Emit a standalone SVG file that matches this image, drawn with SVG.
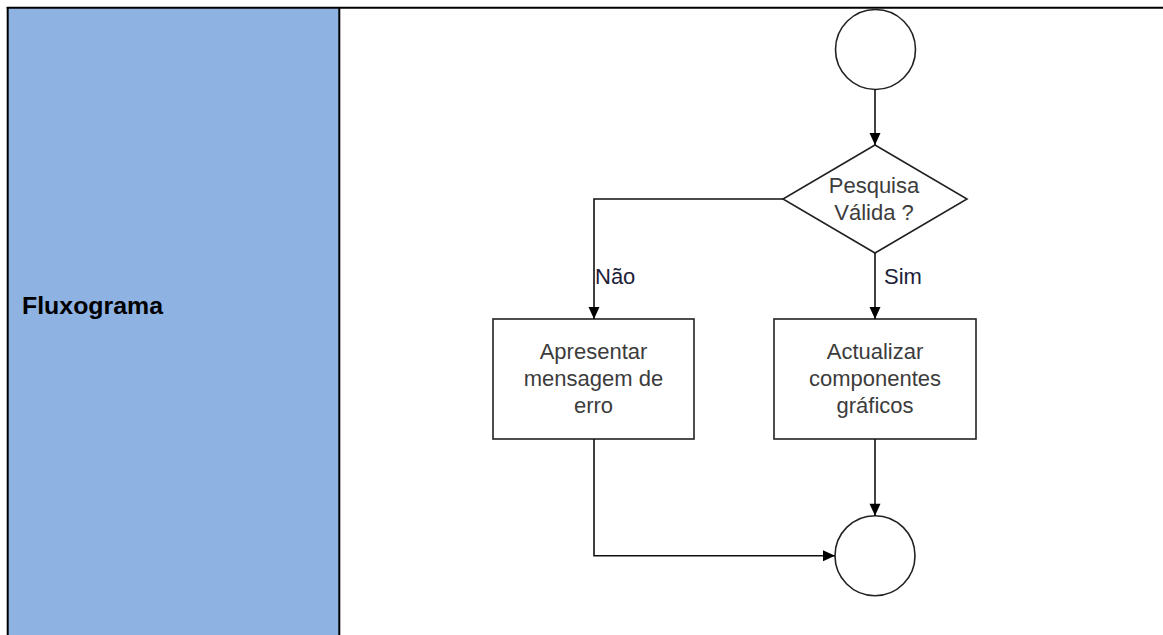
<svg xmlns="http://www.w3.org/2000/svg" width="1163" height="635" viewBox="0 0 1163 635">
<defs>
<marker id="arr" markerUnits="userSpaceOnUse" markerWidth="14" markerHeight="14" viewBox="0 0 14 14" refX="13" refY="7" orient="auto">
<path d="M1,1.5 L13,7 L1,12.5 Z" fill="#000"/>
</marker>
<style>
.node{fill:#fff;stroke:#222;stroke-width:1.6}
.t{font-family:"Liberation Sans",Arial,sans-serif;font-size:22px;fill:#3c3c3c;text-anchor:middle}
.lbl{font-family:"Liberation Sans",Arial,sans-serif;font-size:22px;fill:#1e1e3a}
.c{fill:none;stroke:#111;stroke-width:1.6;marker-end:url(#arr)}
</style>
</defs>
<g id="table">
<rect x="8" y="8" width="331" height="627" fill="#8EB2E2"/>
<line x1="6.7" y1="7.7" x2="1163" y2="7.7" stroke="#000" stroke-width="2"/>
<line x1="7.7" y1="7" x2="7.7" y2="635" stroke="#000" stroke-width="2"/>
<line x1="339.3" y1="7" x2="339.3" y2="635" stroke="#000" stroke-width="2"/>
<text x="22" y="314" font-family="'Liberation Sans',Arial,sans-serif" font-weight="bold" font-size="24" fill="#000" textLength="141" lengthAdjust="spacingAndGlyphs">Fluxograma</text>
</g>
<g id="start"><circle class="node" cx="875.5" cy="49.5" r="40"/></g>
<g id="decision">
<polygon class="node" points="875,145 967,199 875,253 783,199"/>
<text class="t" x="874" y="192.5">Pesquisa</text>
<text class="t" x="874" y="219.5">Válida ?</text>
</g>
<g id="error">
<rect class="node" x="493" y="319" width="201" height="120"/>
<text class="t" x="593.5" y="359">Apresentar</text>
<text class="t" x="593.5" y="386">mensagem de</text>
<text class="t" x="593.5" y="413">erro</text>
</g>
<g id="update">
<rect class="node" x="774" y="319" width="202" height="120"/>
<text class="t" x="875" y="359">Actualizar</text>
<text class="t" x="875" y="386">componentes</text>
<text class="t" x="875" y="413">gráficos</text>
</g>
<g id="end"><circle class="node" cx="875" cy="555.7" r="40"/></g>
<g id="connectors">
<path class="c" d="M875,89.5 L875,145"/>
<path class="c" d="M783,199 L594,199 L594,319"/>
<path class="c" d="M875,253 L875,319"/>
<path class="c" d="M594,439 L594,555.7 L835,555.7"/>
<path class="c" d="M875,439 L875,515.7"/>
<text class="lbl" x="595" y="284">Não</text>
<text class="lbl" x="884" y="284">Sim</text>
</g>
</svg>
